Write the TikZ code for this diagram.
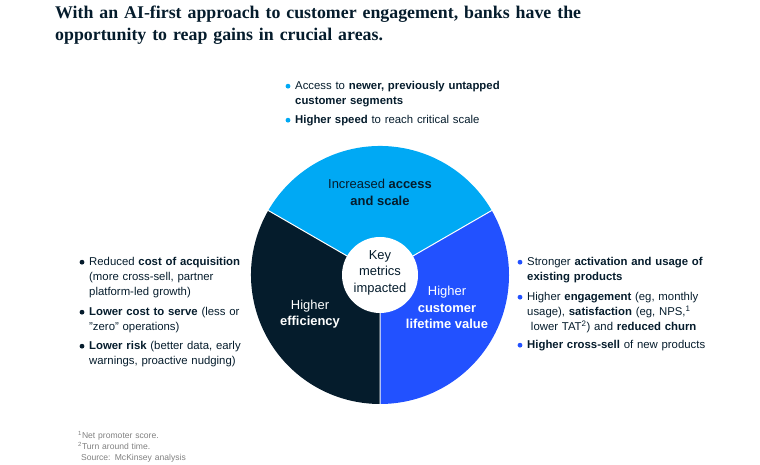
\documentclass[tikz,border=0pt]{standalone}
\usepackage{fontspec}
\setmainfont{Liberation Sans}
\newfontfamily\titlefont{Liberation Serif}
\usetikzlibrary{positioning}
\definecolor{mckcyan}{HTML}{00A9F4}
\definecolor{mckblue}{HTML}{2251FF}
\definecolor{mcknavy}{HTML}{051C2C}
\definecolor{mckgray}{HTML}{808080}
\tikzset{
  bullettext/.style={anchor=base west, inner sep=0pt, text width=215bp, align=left, text=mcknavy,
    font=\fontsize{11.4}{15}\selectfont},
  bulletdot/.style={circle, inner sep=0pt, minimum size=4.8bp},
  seglabel/.style={align=center, inner sep=0pt, font=\fontsize{13}{16.5}\selectfont},
}
\begin{document}
\begin{tikzpicture}[x=1bp, y=1bp]
    \useasboundingbox (0,0) rectangle (760,465);
    % Title
    \node[anchor=base west, inner sep=0pt, text width=650bp, align=left, text=mcknavy,
          font=\titlefont\bfseries\fontsize{17.9}{21.5}\selectfont] (title) at (55,446)
        {With an AI-first approach to customer engagement, banks have the\\
         opportunity to reap gains in crucial areas.};

    % Wheel
    \coordinate (c) at (380,190);
    \fill[mckcyan] (c) -- ++(30:129) arc (30:150:129) -- cycle;
    \fill[mckblue] (c) -- ++(-90:129) arc (-90:30:129) -- cycle;
    \fill[mcknavy] (c) -- ++(150:129) arc (150:270:129) -- cycle;
    \draw[white, line width=1bp] (c) -- ++(30:129) (c) -- ++(150:129) (c) -- ++(270:129);
    \node[circle, fill=white, minimum size=76bp, inner sep=0pt] (hub) at (c) {};
    \node[seglabel, text=mcknavy] (key) at ([yshift=2.5bp]hub.center) {Key\\metrics\\impacted};

    % Segment labels
    \node[seglabel, text=mcknavy] (access) at (380,272.5) {Increased \textbf{access}\\\textbf{and scale}};
    \node[seglabel, text=white] (eff) at (310,151) {Higher\\\textbf{efficiency}};
    \node[seglabel, text=white] (clv) at (447,157.5) {Higher\\\textbf{customer}\\\textbf{lifetime value}};

    % Access and scale (top)
    \node[bullettext] (top1) at (295,375) {Access to \textbf{newer, previously untapped}\\\textbf{customer segments}};
    \node[bullettext] (top2) at (295,341) {\textbf{Higher speed} to reach critical scale};
    \node[bulletdot, fill=mckcyan] (top1dot) at ([xshift=-7bp,yshift=3.8bp]top1.base west) {};
    \node[bulletdot, fill=mckcyan] (top2dot) at ([xshift=-7bp,yshift=3.8bp]top2.base west) {};

    % Efficiency (left)
    \node[bullettext] (left1) at (89,199) {Reduced \textbf{cost of acquisition}\\(more cross-sell, partner\\platform-led growth)};
    \node[bullettext] (left2) at (89,149) {\textbf{Lower cost to serve} (less or\\"zero" operations)};
    \node[bullettext] (left3) at (89,115) {\textbf{Lower risk} (better data, early\\warnings, proactive nudging)};
    \node[bulletdot, fill=mcknavy] (left1dot) at ([xshift=-7bp,yshift=3.8bp]left1.base west) {};
    \node[bulletdot, fill=mcknavy] (left2dot) at ([xshift=-7bp,yshift=3.8bp]left2.base west) {};
    \node[bulletdot, fill=mcknavy] (left3dot) at ([xshift=-7bp,yshift=3.8bp]left3.base west) {};

    % Lifetime value (right)
    \node[bullettext] (right1) at (527,199) {Stronger \textbf{activation and usage of}\\\textbf{existing products}};
    \node[bullettext] (right2) at (527,164) {Higher \textbf{engagement} (eg, monthly\\usage), \textbf{satisfaction} (eg, NPS,\textsuperscript{1}\\\ lower TAT\textsuperscript{2}) and \textbf{reduced churn}};
    \node[bullettext] (right3) at (527,116) {\textbf{Higher cross-sell} of new products};
    \node[bulletdot, fill=mckblue] (right1dot) at ([xshift=-7bp,yshift=3.8bp]right1.base west) {};
    \node[bulletdot, fill=mckblue] (right2dot) at ([xshift=-7bp,yshift=3.8bp]right2.base west) {};
    \node[bulletdot, fill=mckblue] (right3dot) at ([xshift=-7bp,yshift=3.8bp]right3.base west) {};

    % Notes
    \node[anchor=base west, inner sep=0pt, text width=200bp, align=left, text=mckgray,
          font=\fontsize{8.6}{11}\selectfont] (notes) at (78,26)
        {\textsuperscript{1}Net promoter score.\\\textsuperscript{2}Turn around time.\\\ Source: McKinsey analysis};
\end{tikzpicture}
\end{document}
